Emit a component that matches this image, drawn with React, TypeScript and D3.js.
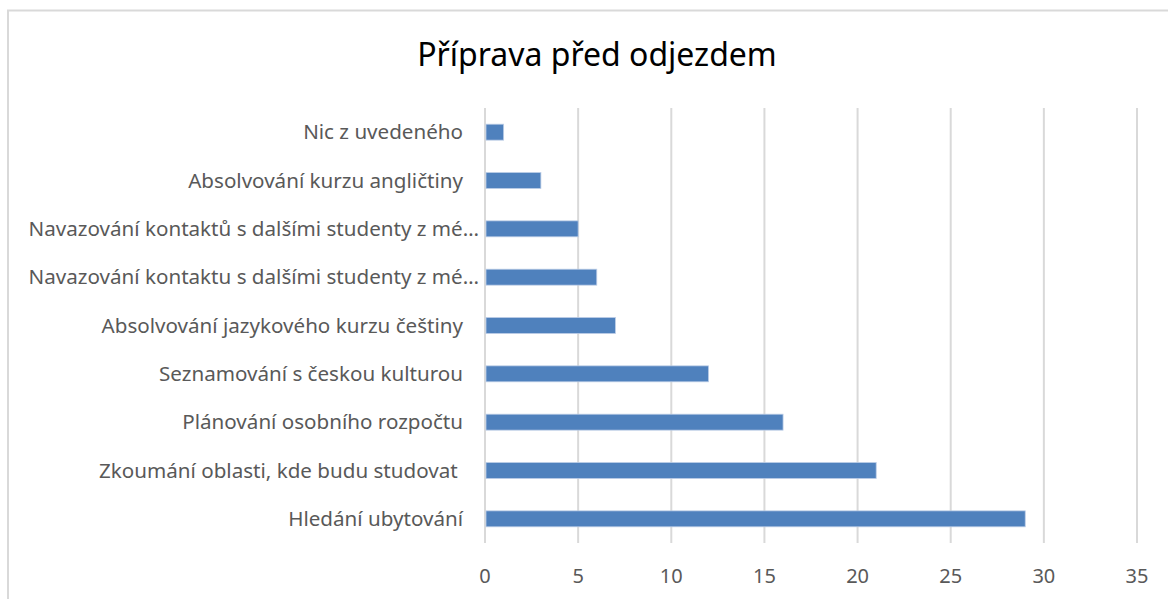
import React, { useEffect, useRef } from "react";
import * as d3 from "d3";

const categories = [
  "Nic z uvedeného",
  "Absolvování kurzu angličtiny",
  "Navazování kontaktů s dalšími studenty z mé…",
  "Navazování kontaktu s dalšími studenty z mé…",
  "Absolvování jazykového kurzu češtiny",
  "Seznamování s českou kulturou",
  "Plánování osobního rozpočtu",
  "Zkoumání oblasti, kde budu studovat ",
  "Hledání ubytování",
];
const values = [1, 3, 5, 6, 7, 12, 16, 21, 29];
const xTicks = [0, 5, 10, 15, 20, 25, 30, 35];
const title = "Příprava před odjezdem";

const App: React.FC = () => {
  const svgRef = useRef<SVGSVGElement>(null);

  useEffect(() => {
    if (!svgRef.current) return;
    const W = 1168;
    const H = 599;
    const font = "'Noto Sans', 'Open Sans', sans-serif";

    const svg = d3.select(svgRef.current).attr("width", W).attr("height", H);
    svg.selectAll("*").remove();

    svg.append("rect").attr("width", W).attr("height", H).attr("fill", "#fff");

    // chart frame (only top and left edges visible)
    svg
      .append("path")
      .attr("d", `M8,${H} L8,10.5 L${W},10.5`)
      .attr("fill", "none")
      .attr("stroke", "#d9d9d9")
      .attr("stroke-width", 2);

    const x = d3.scaleLinear().domain([0, 35]).range([485, 1137]);
    const y = d3
      .scaleBand()
      .domain(categories)
      .range([108, 543])
      .paddingInner(0.67)
      .paddingOuter(0.335);

    // gridlines
    svg
      .append("g")
      .selectAll("line")
      .data(xTicks)
      .enter()
      .append("line")
      .attr("x1", (d) => x(d))
      .attr("x2", (d) => x(d))
      .attr("y1", 108)
      .attr("y2", 543)
      .attr("stroke", "#d9d9d9")
      .attr("stroke-width", 2);

    // bars
    svg
      .append("g")
      .selectAll("rect")
      .data(categories)
      .enter()
      .append("rect")
      .attr("x", x(0) + 1)
      .attr("y", (d) => y(d) || 0)
      .attr("width", (d, i) => x(values[i]) - x(0) - 1)
      .attr("height", y.bandwidth())
      .attr("fill", "#4f81bd")
      .attr("stroke", "#bccde6")
      .attr("stroke-width", 0.8);

    // category labels (truncated ones overflow a bit further right, like Excel)
    svg
      .append("g")
      .selectAll("text")
      .data(categories)
      .enter()
      .append("text")
      .attr("x", (d) => (d.endsWith("…") ? 479 : 463))
      .attr("y", (d) => (y(d) || 0) + y.bandwidth() / 2)
      .attr("dy", "0.35em")
      .attr("text-anchor", "end")
      .attr("font-family", font)
      .attr("font-size", 20.6)
      .attr("fill", "#595959")
      .style("white-space", "pre")
      .text((d) => d);

    // x tick labels
    svg
      .append("g")
      .selectAll("text")
      .data(xTicks)
      .enter()
      .append("text")
      .attr("x", (d) => x(d))
      .attr("y", 576)
      .attr("dy", "0.35em")
      .attr("text-anchor", "middle")
      .attr("font-family", font)
      .attr("font-size", 20)
      .attr("fill", "#595959")
      .text((d) => d);

    svg
      .append("text")
      .attr("x", 597)
      .attr("y", 55)
      .attr("dy", "0.35em")
      .attr("text-anchor", "middle")
      .attr("font-family", font)
      .attr("font-size", 32)
      .attr("fill", "#000")
      .text(title);
  }, []);

  return (
    <svg
      ref={svgRef}
      style={{ position: "absolute", left: 0, top: 0, display: "block" }}
    ></svg>
  );
};

export default App;
